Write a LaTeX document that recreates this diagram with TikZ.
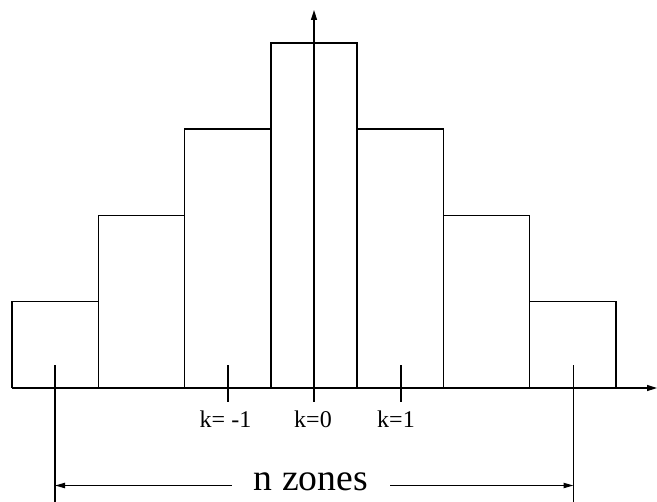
\documentclass[tikz,border=0pt]{standalone}
\usepackage{fontspec}
\setmainfont{Liberation Serif}
\usetikzlibrary{arrows.meta}
\begin{document}
\begin{tikzpicture}[x=0.5pt,y=-0.5pt, line width=0.75pt,
  bar/.style={draw=black, line width=0.75pt},
  axis/.style={-{Triangle[length=5pt,width=3pt]}},
  dim/.style={-{Triangle[length=5pt,width=2.6pt]}},
  lbl/.style={font=\fontsize{12}{14}\selectfont, anchor=base, inner sep=0pt},
  big/.style={font=\fontsize{18.85}{22}\selectfont, anchor=base, inner xsep=10.75pt, inner ysep=0pt},
]
\useasboundingbox (0,0) rectangle (657,502);
% bars: outline and dividers, each edge drawn once
\draw[bar] (12,388) -- (12,301.7) -- (98.3,301.7) -- (98.3,215.4) -- (184.6,215.4)
  -- (184.6,129.1) -- (270.9,129.1) -- (270.9,42.8) -- (357.2,42.8) -- (357.2,129.1)
  -- (443.4,129.1) -- (443.4,215.4) -- (529.7,215.4) -- (529.7,301.7) -- (616,301.7) -- (616,388);
\draw[bar] (98.3,301.7) -- (98.3,388);
\draw[bar] (184.6,215.4) -- (184.6,388);
\draw[bar] (270.9,129.1) -- (270.9,388);
\draw[bar] (357.2,129.1) -- (357.2,388);
\draw[bar] (443.4,215.4) -- (443.4,388);
\draw[bar] (529.7,301.7) -- (529.7,388);
% axes
\coordinate (o) at (12,388);
\coordinate (xend) at (657,388);
\coordinate (vb) at (314,401.7);
\coordinate (vt) at (314,10);
\draw[axis] (o) -- (xend);
\draw[axis] (vb) -- (vt);
% ticks
\coordinate (tm1a) at (228,365); \coordinate (tm1b) at (228,401.7);
\coordinate (tp1a) at (401,365); \coordinate (tp1b) at (401,401.7);
\draw (tm1a) -- (tm1b);
\draw (tp1a) -- (tp1b);
\coordinate (la) at (55,365); \coordinate (lb) at (55,502);
\coordinate (ra) at (573.5,365); \coordinate (rb) at (573.5,502);
\draw (la) -- (lb);
\draw (ra) -- (rb);
% labels
\node[lbl] (km1) at (225.5,427) {k= -1};
\node[lbl] (k0) at (313,427) {k=0};
\node[lbl] (kp1) at (396,427) {k=1};
% dimension
\coordinate (dl) at (55,485.5);
\coordinate (dr) at (573.5,485.5);
\node[big] (nz) at (311,490) {n zones};
\draw[dim] (nz.west |- dl) -- (dl);
\draw[dim] (nz.east |- dr) -- (dr);
\end{tikzpicture}
\end{document}
